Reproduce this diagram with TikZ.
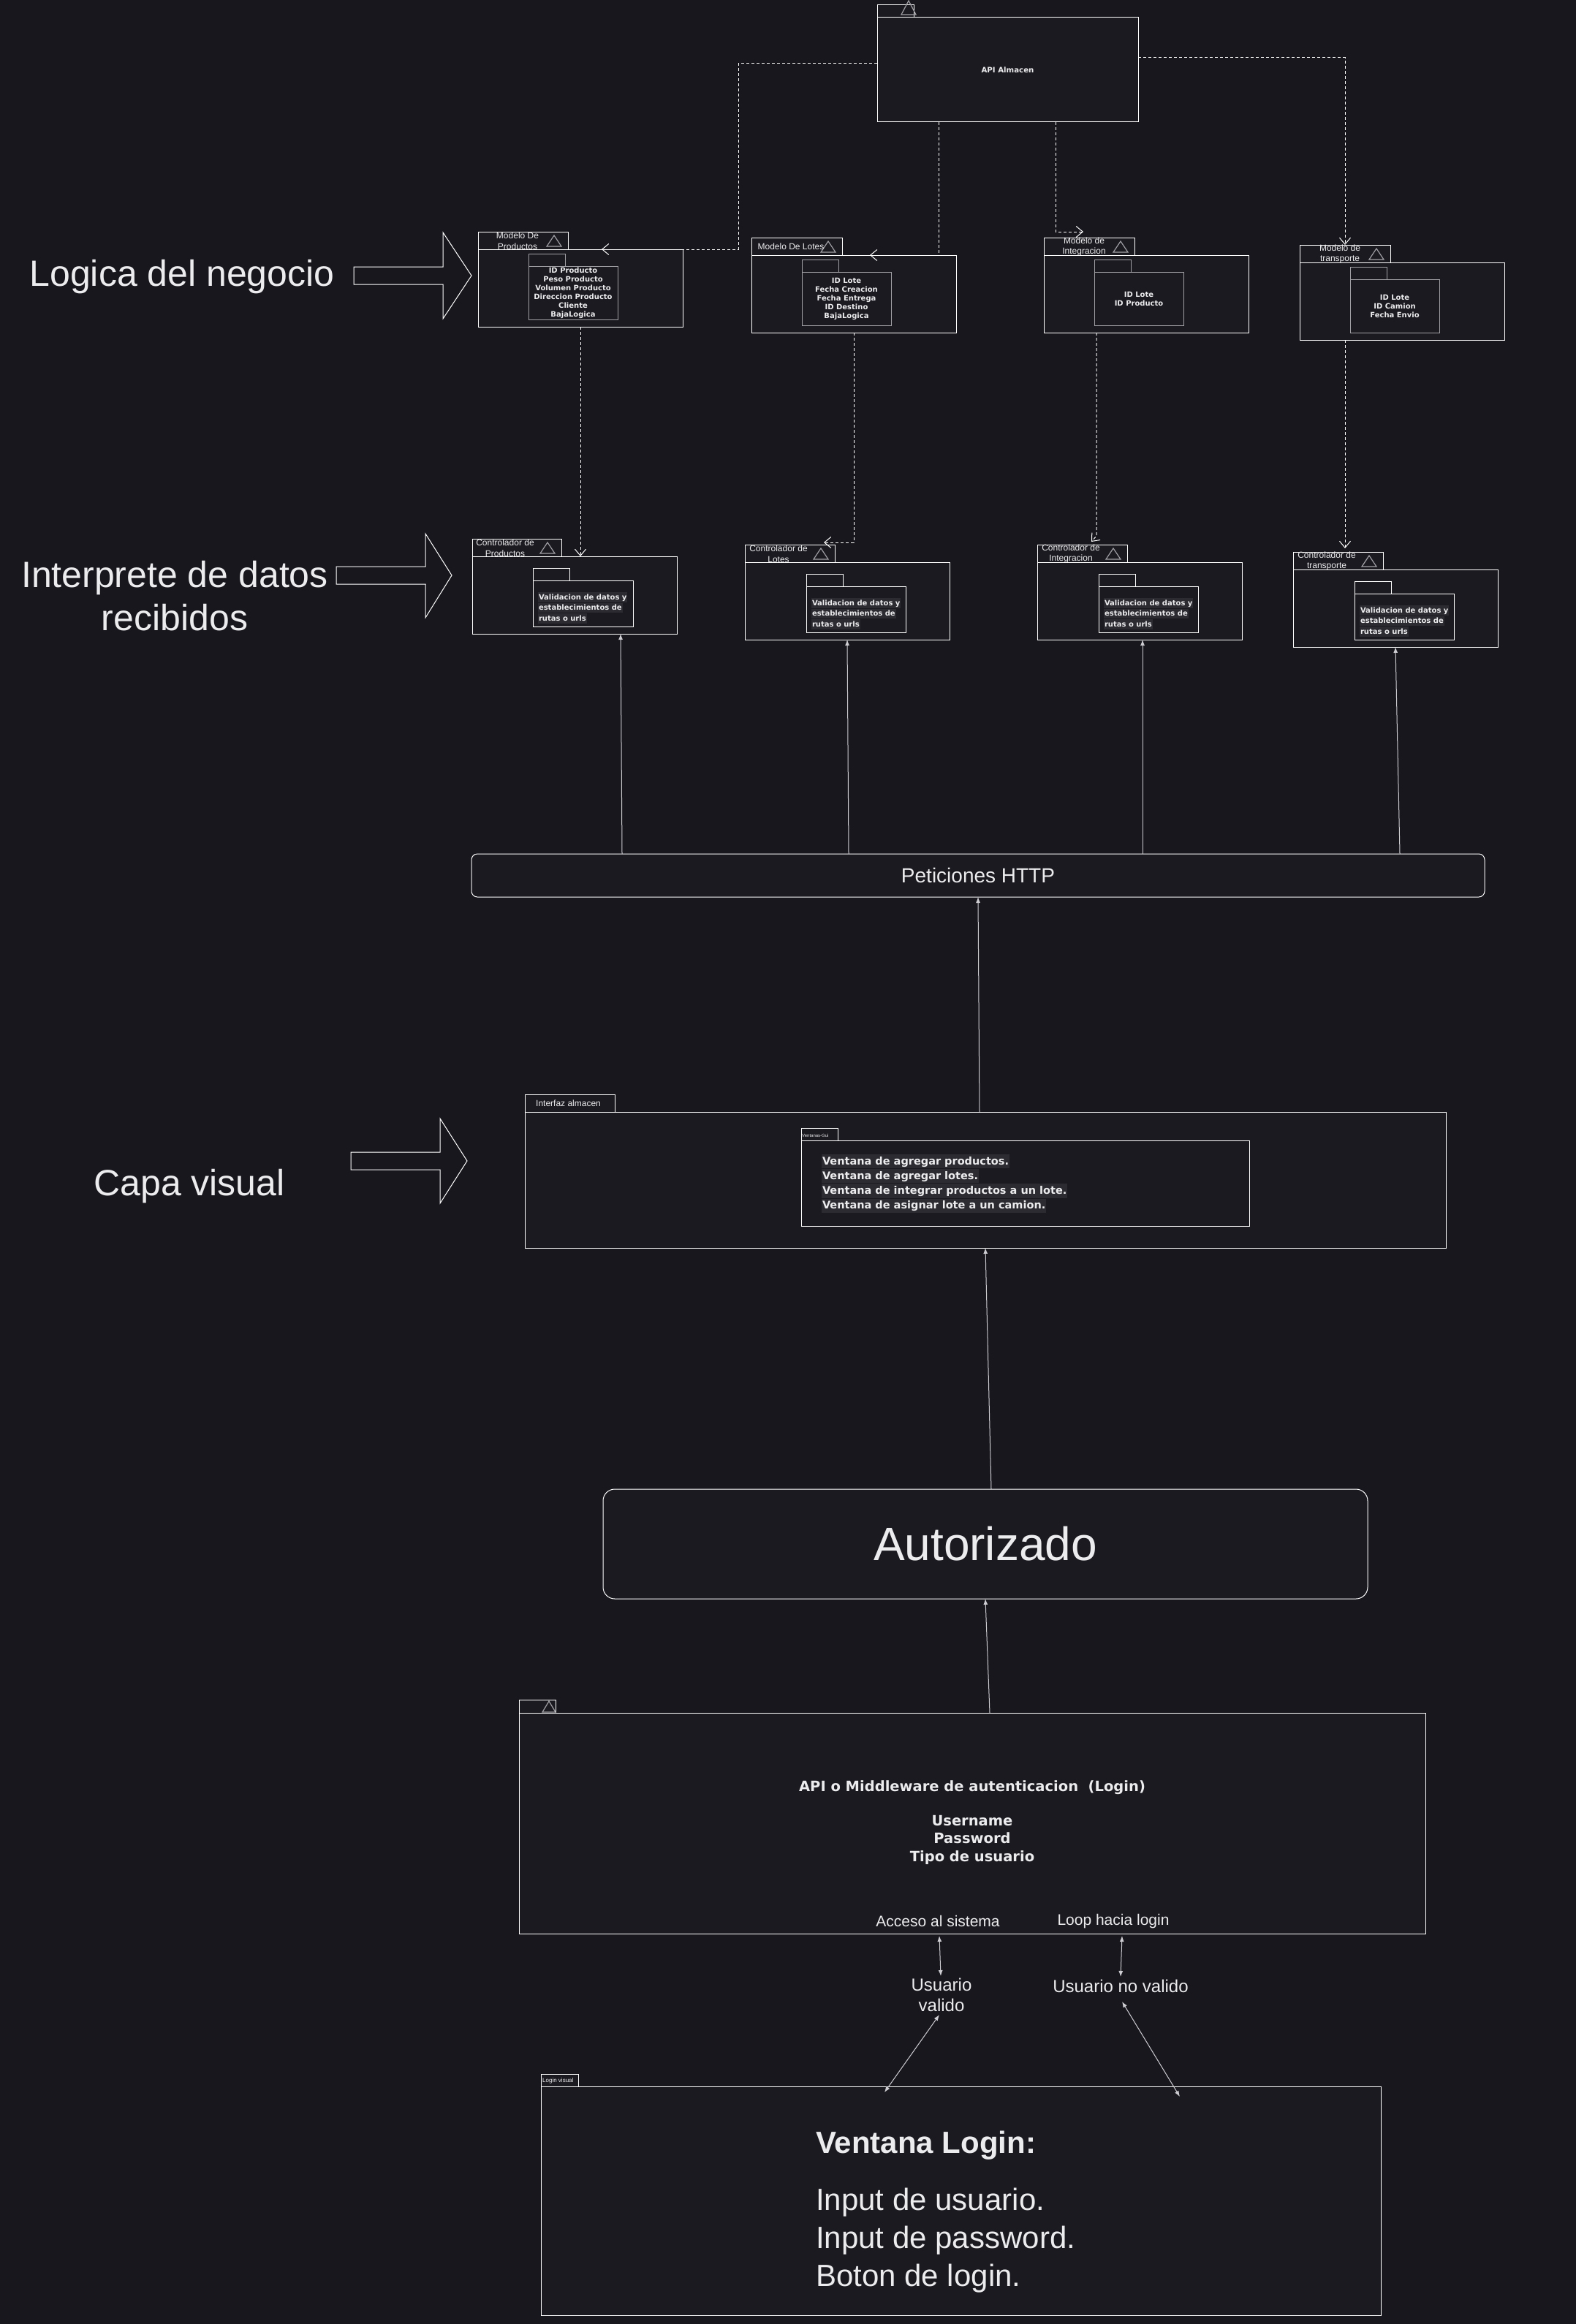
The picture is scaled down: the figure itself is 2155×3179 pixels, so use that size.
\documentclass[tikz,border=0pt]{standalone}
\usepackage{fontspec}
\setmainfont{Liberation Sans}
\newfontfamily\dvs{DejaVu Sans}
\usetikzlibrary{arrows.meta,calc}

\definecolor{bgc}{RGB}{24,23,30}
\definecolor{boxc}{RGB}{27,26,32}
\definecolor{txtc}{RGB}{236,236,238}
\definecolor{lgray}{RGB}{205,205,210}
\definecolor{mgray}{RGB}{160,160,165}
\definecolor{hlc}{RGB}{44,43,49}

\setlength{\fboxsep}{0.8pt}

% package frame: tab + body, both anchored by their top-left corner
\newcommand\pkgframe[7]{%
  \node[tabbox,minimum width=#4pt,minimum height=#5pt] (#1-tab) at (#2,#3) {};
  \node[pkgbox,minimum width=#6pt,minimum height=#7pt] (#1) at (#1-tab.south west) {};
}
% small inner package (tab + body)
\newcommand\innerpkg[8]{%
  \node[tabbox,draw=#8,minimum width=#4pt,minimum height=#5pt] (#1-tab) at (#2,#3) {};
  \node[pkgbox,draw=#8,minimum width=#6pt,minimum height=#7pt] (#1) at (#1-tab.south west) {};
}
% package symbol inside the tab
\newcommand\pkgtri[1]{%
  \draw[trisym] ($(#1-tab.north east)+(-19,5)$) -- ($(#1-tab.north east)+(-29,20)$)
    -- ($(#1-tab.north east)+(-9,20)$) -- cycle;
}
\newcommand\hlA[1]{\colorbox{hlc}{\vrule width0pt height9pt depth3pt#1}}
\newcommand\hlB[1]{\colorbox{hlc}{\vrule width0pt height13pt depth4.5pt#1}}

\begin{document}
\begin{tikzpicture}[x=1pt,y=-1pt,
  tabbox/.style={draw=white,fill=boxc,line width=1pt,anchor=north west,inner sep=0pt,outer sep=0pt},
  pkgbox/.style={draw=white,fill=boxc,line width=1pt,anchor=north west,inner sep=0pt,outer sep=0pt},
  trisym/.style={draw=mgray,line width=1.2pt,line join=miter},
  roundbox/.style={draw=white,fill=boxc,line width=1pt,rounded corners=8pt,anchor=north west,inner sep=0pt,outer sep=0pt},
  tablabel/.style={text=txtc,font=\fontsize{12}{14.5}\selectfont,align=center,inner sep=0pt},
  inner text/.style={text=txtc,font=\dvs\bfseries\fontsize{10}{12}\selectfont,align=center,inner sep=0pt},
  ctrl text/.style={text=txtc,font=\dvs\bfseries\fontsize{10}{14.5}\selectfont,align=left,inner sep=0pt,anchor=north west},
  biglabel/.style={text=txtc,font=\fontsize{50}{59}\selectfont,align=center,inner sep=0pt},
  blockarrow/.style={draw=white,line width=1pt,fill=bgc,line join=miter},
  dasharrow/.style={draw=white,line width=1pt,dash pattern=on 4pt off 3pt,
    -{Straight Barb[length=9pt,width=15pt,line width=1pt]}},
  solidarrow/.style={draw=lgray,line width=1pt,-{Latex[length=8pt,width=6pt]}},
  botharrow/.style={draw=lgray,line width=1pt,{Latex[length=8pt,width=6pt]}-{Latex[length=8pt,width=6pt]}},
  midlabel/.style={text=txtc,inner sep=0pt,align=center}]

% page size first, then the background (which bleeds past it)
\useasboundingbox (0,0) rectangle (2155,3179);
\fill[bgc] (-10,-10) rectangle (2170,3190);

% ---------------- API Almacen ----------------
\pkgframe{api}{1200}{7}{50}{17}{357}{143}
\draw[trisym] (1243,1) -- (1233,20) -- (1253,20) -- cycle;
\node[inner text,font=\dvs\bfseries\fontsize{10.2}{12}\selectfont] (api-t) at (api.center) {API Almacen};

% ---------------- Models ----------------
\pkgframe{mp}{654}{317}{123}{24}{280}{106}
\pkgtri{mp}
\node[tablabel] (mp-l) at (708,329.5) {Modelo De\\Productos};
\innerpkg{mp-in}{723}{347}{50}{17}{122}{73}{mgray}
\node[inner text] (mp-t) at (mp-in.center) {ID Producto\\Peso Producto\\Volumen Producto\\Direccion Producto\\Cliente\\BajaLogica};

\pkgframe{ml}{1028}{325}{124}{24}{280}{106}
\pkgtri{ml}
\node[tablabel] (ml-l) at (1082,337) {Modelo De Lotes};
\innerpkg{ml-in}{1097}{355}{50}{17}{122}{73}{mgray}
\node[inner text] (ml-t) at (ml-in.center) {ID Lote\\Fecha Creacion\\Fecha Entrega\\ID Destino\\BajaLogica};

\pkgframe{mi}{1428}{325}{124}{24}{280}{106}
\pkgtri{mi}
\node[tablabel] (mi-l) at (1483,337.5) {Modelo de\\Integracion};
\innerpkg{mi-in}{1497}{355}{50}{17}{122}{73}{mgray}
\node[inner text] (mi-t) at (mi-in.center) {ID Lote\\ID Producto};

\pkgframe{mt}{1778}{335}{124}{24}{280}{106}
\pkgtri{mt}
\node[tablabel] (mt-l) at (1833,347.5) {Modelo de\\transporte};
\innerpkg{mt-in}{1847}{365}{50}{17}{122}{73}{mgray}
\node[inner text] (mt-t) at (mt-in.center) {ID Lote\\ID Camion\\Fecha Envio};

% ---------------- Controllers ----------------
\pkgframe{cp}{646}{737}{122}{24}{280}{106}
\pkgtri{cp}
\node[tablabel] (cp-l) at (691,749.5) {Controlador de\\Productos};
\innerpkg{cp-in}{729}{777}{50}{17}{137}{63}{white}
\node[ctrl text] (cp-t) at (736,810) {\hlA{Validacion de datos y}\\\hlA{establecimientos de}\\\hlA{rutas o urls}};

\pkgframe{cl}{1019}{745}{123}{24}{280}{106}
\pkgtri{cl}
\node[tablabel] (cl-l) at (1065,757.5) {Controlador de\\Lotes};
\innerpkg{cl-in}{1103}{785}{50}{17}{136}{63}{white}
\node[ctrl text] (cl-t) at (1110,818) {\hlA{Validacion de datos y}\\\hlA{establecimientos de}\\\hlA{rutas o urls}};

\pkgframe{ci}{1419}{745}{123}{24}{280}{106}
\pkgtri{ci}
\node[tablabel] (ci-l) at (1465,757.5) {Controlador de\\Integracion};
\innerpkg{ci-in}{1503}{785}{50}{17}{136}{63}{white}
\node[ctrl text] (ci-t) at (1510,818) {\hlA{Validacion de datos y}\\\hlA{establecimientos de}\\\hlA{rutas o urls}};

\pkgframe{ct}{1769}{755}{123}{24}{280}{106}
\pkgtri{ct}
\node[tablabel] (ct-l) at (1815,767.5) {Controlador de\\transporte};
\innerpkg{ct-in}{1853}{795}{50}{17}{136}{63}{white}
\node[ctrl text] (ct-t) at (1860,828) {\hlA{Validacion de datos y}\\\hlA{establecimientos de}\\\hlA{rutas o urls}};

% ---------------- Peticiones HTTP ----------------
\node[roundbox,minimum width=1386pt,minimum height=59pt] (http) at (645,1168) {};
\node[midlabel,font=\fontsize{28}{32}\selectfont] (http-t) at (http.center) {Peticiones HTTP};

% ---------------- Interfaz almacen ----------------
\pkgframe{ui}{718}{1497}{123}{24}{1260}{186}
\node[tablabel,anchor=west] (ui-l) at (733,1509) {Interfaz almacen};
\innerpkg{ui-in}{1096}{1543}{50}{17}{613}{117}{white}
\node[tablabel,anchor=west,font=\fontsize{6}{7}\selectfont] (ui-inl) at (1097,1553) {Ventanas-Gui};
\node[ctrl text,font=\dvs\bfseries\fontsize{14.5}{19}\selectfont] (ui-t) at (1124,1579)
  {\hlB{Ventana de agregar productos.}\\\hlB{Ventana de agregar lotes.}\\\hlB{Ventana de integrar productos a un lote.}\\\hlB{Ventana de asignar lote a un camion.}};

% ---------------- Autorizado ----------------
\node[roundbox,rounded corners=16pt,minimum width=1046pt,minimum height=150pt] (auth) at (825,2037) {};
\node[midlabel,font=\fontsize{64}{72}\selectfont] (auth-t) at (auth.center) {Autorizado};

% ---------------- Authentication middleware ----------------
\pkgframe{mw}{710}{2325}{50}{18}{1240}{302}
\draw[trisym] (751,2327) -- (742,2342) -- (760,2342) -- cycle;
\node[inner text,font=\dvs\bfseries\fontsize{19.5}{24.5}\selectfont] (mw-t) at (1330,2493)
  {API o Middleware de autenticacion\ \ (Login)\\[22pt]Username\\Password\\Tipo de usuario};
\node[midlabel,font=\fontsize{21}{24}\selectfont] (acc) at (1283,2628) {Acceso al sistema};
\node[midlabel,font=\fontsize{21}{24}\selectfont] (loop) at (1523,2628) {Loop hacia login};
\node[midlabel,font=\fontsize{24}{28}\selectfont] (uv) at (1288,2729) {Usuario\\valido};
\node[midlabel,font=\fontsize{24}{28}\selectfont] (unv) at (1533,2717) {Usuario no valido};

% ---------------- Login visual ----------------
\pkgframe{lv}{740}{2837}{51}{17}{1149}{313}
\node[tablabel,anchor=west,font=\fontsize{8}{9}\selectfont] (lv-l) at (742,2846) {Login visual};
\node[text=txtc,inner sep=0pt,anchor=base west,font=\bfseries\fontsize{42}{50}\selectfont] (lv-h) at (1116,2945) {Ventana Login:};
\node[text=txtc,inner sep=0pt,anchor=base west,font=\fontsize{42}{50}\selectfont] (lv-a) at (1116,3023) {Input de usuario.};
\node[text=txtc,inner sep=0pt,anchor=base west,font=\fontsize{42}{50}\selectfont] (lv-b) at (1116,3075) {Input de password.};
\node[text=txtc,inner sep=0pt,anchor=base west,font=\fontsize{42}{50}\selectfont] (lv-c) at (1116,3127) {Boton de login.};

% ---------------- Layer labels and block arrows ----------------
\node[biglabel] (lbl-neg) at (249,379) {Logica del negocio};
\draw[blockarrow] (484,365) -- (606,365) -- (606,318) -- (645,377) -- (606,436) -- (606,389) -- (484,389) -- cycle;

\node[biglabel] (lbl-int) at (239,815) {Interprete de datos\\recibidos};
\draw[blockarrow] (460,775) -- (582,775) -- (582,730) -- (618,787) -- (582,845) -- (582,799) -- (460,799) -- cycle;

\node[biglabel] (lbl-vis) at (259,1623) {Capa visual};
\draw[blockarrow] (480,1576) -- (602,1576) -- (602,1530) -- (639,1588) -- (602,1646) -- (602,1600) -- (480,1600) -- cycle;

% ---------------- Dependencies from the API ----------------
\draw[dasharrow] ($(api.north west)+(0,63)$) -| (1010,341) -- ($(mp.north west)+(169,0)$);
\draw[dasharrow] ($(api.south west)+(84,0)$) |- ($(ml.north west)+(162,0)$);
\draw[dasharrow] ($(api.south west)+(244,0)$) |- (1482,317);
\draw[dasharrow] ($(api.north east)+(0,55)$) -| ($(mt-tab.north west)+(62,0)$);

% ---------------- Models to controllers ----------------
\draw[dasharrow] ($(mp.south west)+(140,0)$) -- ($(cp.north west)+(148,0)$);
\draw[dasharrow] ($(ml.south west)+(140,0)$) |- ($(cl-tab.north west)+(108,-3)$);
\draw[dasharrow] ($(mi.south west)+(72,0)$) -- (1500,733) -- ($(ci-tab.north west)+(74,-4)$);
\draw[dasharrow] ($(mt.south west)+(62,0)$) -- ($(ct-tab.north west)+(71,-5)$);

% ---------------- Requests to controllers ----------------
\draw[solidarrow] ($(http.north west)+(206,0)$) -- ($(cp.south west)+(203,0)$);
\draw[solidarrow] ($(http.north west)+(516,0)$) -- ($(cl.south west)+(140,0)$);
\draw[solidarrow] ($(http.north west)+(918,0)$) -- ($(ci.south west)+(144,0)$);
\draw[solidarrow] ($(http.north west)+(1270,0)$) -- ($(ct.south west)+(140,0)$);

% ---------------- Main vertical flow ----------------
\draw[solidarrow] ($(ui.north west)+(622,0)$) -- ($(http.south west)+(693,0)$);
\draw[solidarrow] ($(auth.north west)+(531,0)$) -- ($(ui.south west)+(630,0)$);
\draw[solidarrow] ($(mw.north west)+(644,0)$) -- ($(auth.south west)+(523,0)$);

% ---------------- Login outcomes ----------------
\draw[botharrow] ($(mw.south west)+(575,3)$) -- ($(uv.north)+(-1,-3)$);
\draw[botharrow] ($(mw.south west)+(825,3)$) -- ($(unv.north)+(0,-4)$);
\draw[botharrow] ($(uv.south)+(-3,4)$) -- ($(lv.north west)+(470,8)$);
\draw[botharrow] ($(unv.south)+(2,12)$) -- ($(lv.north west)+(874,14)$);

\end{tikzpicture}
\end{document}
